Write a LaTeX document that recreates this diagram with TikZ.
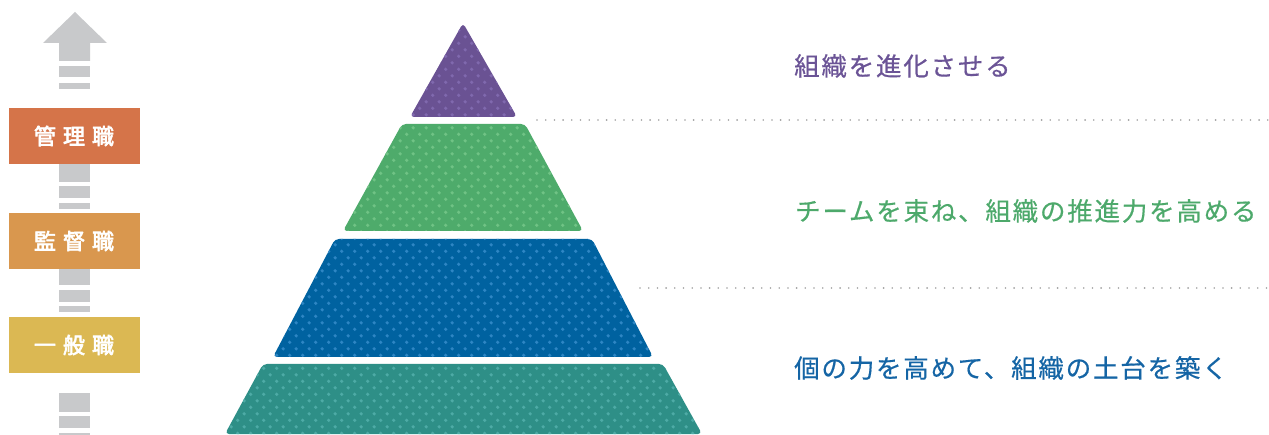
\documentclass[tikz,border=0pt]{standalone}
\usepackage{fontspec}
\newfontfamily\jp{Noto Sans CJK JP}[LetterSpace=7, FakeBold=0.5]
\newfontfamily\jpb{Noto Sans CJK JP}[LetterSpace=32, FakeBold=3]
\definecolor{cpurple}{HTML}{6A5293}
\definecolor{cpurpled}{HTML}{8069AE}
\definecolor{cgreen}{HTML}{4EAB6B}
\definecolor{cgreend}{HTML}{70C385}
\definecolor{cblue}{HTML}{0062A0}
\definecolor{cblued}{HTML}{2E86C4}
\definecolor{cteal}{HTML}{2E8F87}
\definecolor{cteald}{HTML}{4EABA6}
\definecolor{corange}{HTML}{D57449}
\definecolor{clorange}{HTML}{D9974E}
\definecolor{cyellow}{HTML}{DBB853}
\definecolor{cgray}{HTML}{C8C9CB}
\definecolor{cdot}{HTML}{A0A0A0}
\definecolor{tpurple}{HTML}{6B5496}
\definecolor{tgreen}{HTML}{4DA96B}
\definecolor{tblue}{HTML}{1565A5}
\tikzset{
  rolebox/.style={fill=#1},
  rolelabel/.style={inner sep=0pt, text=white, font={\jpb\fontsize{22}{22}\selectfont}},
  bartext/.style={inner sep=0pt, anchor=west, text=#1, font={\jp\fontsize{25.5}{25.5}\selectfont}},
  dotline/.style={draw=cdot, line width=1.8pt, line cap=round, dash pattern=on 0pt off 8.7pt},
  gray/.style={fill=cgray}
}
\newcommand{\dotgrid}[5]{% imin imax jmin jmax color
  \foreach \j in {#3,...,#4}{
    \pgfmathsetmacro\yy{4.3+6.5*\j}
    \pgfmathsetmacro\off{6.5*mod(\j,2)}
    \foreach \i in {#1,...,#2}{
      \fill[#5] ({3.7+13*\i+\off},\yy) circle[radius=1.8pt];
    }
  }
}
\begin{document}
\begin{tikzpicture}[x=1pt,y=-1pt]
\useasboundingbox (0,0) rectangle (1269,435);
% arrow
\fill[cgray] (43,43) -- (75,12) -- (107,43) -- (90,43) -- (90,61) -- (59,61) -- (59,43) -- cycle;
\fill[gray] (59,66) rectangle (90,77);
\fill[gray] (59,83) rectangle (90,89);
\fill[gray] (59,164) rectangle (90,182);
\fill[gray] (59,186) rectangle (90,198);
\fill[gray] (59,203) rectangle (90,209);
\fill[gray] (59,269) rectangle (90,285);
\fill[gray] (59,290) rectangle (90,302);
\fill[gray] (59,306) rectangle (90,312);
\fill[gray] (59,393) rectangle (90,412);
\fill[gray] (59,416) rectangle (90,428);
\fill[gray] (59,433) rectangle (90,436);
% role boxes
\fill[rolebox=corange] (9,108) rectangle (140,164);
\node[rolelabel] (kanri) at (74,136) {管理職};
\fill[rolebox=clorange] (9,213) rectangle (140,269);
\node[rolelabel] (kantoku) at (74,241) {監督職};
\fill[rolebox=cyellow] (9,317) rectangle (140,373);
\node[rolelabel] (ippan) at (74,345) {一般職};
% pyramid
\begin{scope}
  \clip[rounded corners=4pt] (463,23) -- (517,117) -- (410,117) -- cycle;
  \fill[cpurple] (400,15) rectangle (530,125);
  \dotgrid{30}{40}{2}{18}{cpurpled}
\end{scope}
\begin{scope}
  \clip[rounded corners=4pt] (402,124) -- (525,124) -- (583,231) -- (343,231) -- cycle;
  \fill[cgreen] (335,120) rectangle (590,235);
  \dotgrid{25}{45}{18}{35}{cgreend}
\end{scope}
\begin{scope}
  \clip[rounded corners=4pt] (335,239) -- (592,239) -- (653,357) -- (273,357) -- cycle;
  \fill[cblue] (265,235) rectangle (660,360);
  \dotgrid{20}{50}{36}{55}{cblued}
\end{scope}
\begin{scope}
  \clip[rounded corners=4pt] (263,364) -- (663,364) -- (702,434) -- (225,434) -- cycle;
  \fill[cteal] (220,360) rectangle (710,440);
  \dotgrid{16}{54}{55}{67}{cteald}
\end{scope}
% dotted separators
\coordinate (s1a) at (537,120);
\coordinate (s1b) at (1269,120);
\coordinate (s2a) at (640,288);
\coordinate (s2b) at (1269,288);
\draw[dotline] (s1a) -- (s1b);
\draw[dotline] (s2a) -- (s2b);
% texts
\node[bartext=tpurple] (t1) at (794,66) {組織を進化させる};
\node[bartext=tgreen] (t2) at (795,211) {チームを束ね、組織の推進力を高める};
\node[bartext=tblue] (t3) at (794,368) {個の力を高めて、組織の土台を築く};
\end{tikzpicture}
\end{document}
